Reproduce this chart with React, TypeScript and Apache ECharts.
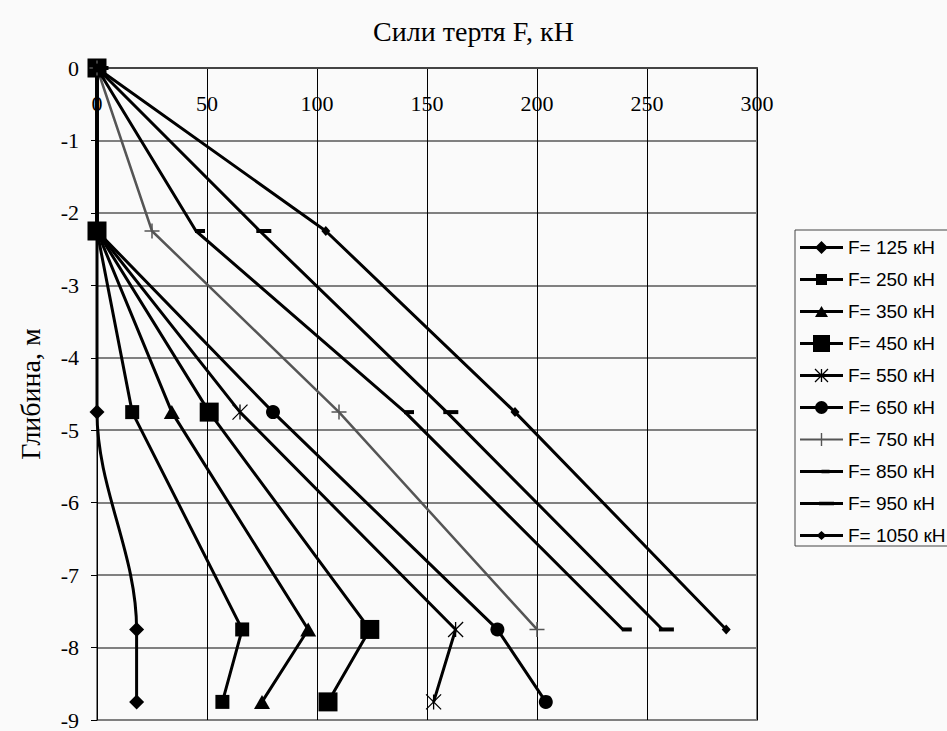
import React, { useEffect, useRef } from "react";
import * as echarts from "echarts";

const depths = [0, -2.25, -4.75, -7.75, -8.75];
const depthsShort = [0, -2.25, -4.75, -7.75];
const f125 = [0, 0, 0, 18, 18];
const f250 = [0, 0, 16, 66, 57];
const f350 = [0, 0, 34, 96, 75];
const f450 = [0, 0, 51, 124, 105];
const f550 = [0, 0, 65, 163, 153];
const f650 = [0, 0, 80, 182, 204];
const f750 = [0, 25, 110, 200];
const f850 = [0, 45, 140, 239];
const f950 = [0, 74, 159, 257];
const f1050 = [0, 104, 190, 286];
const names = ["F= 125 кН", "F= 250 кН", "F= 350 кН", "F= 450 кН", "F= 550 кН", "F= 650 кН", "F= 750 кН", "F= 850 кН", "F= 950 кН", "F= 1050 кН"];
const xTicks = { min: 0, max: 300, interval: 50 };
const yTicks = { min: -9, max: 0, interval: 1 };

const STAR = "path://M0,0L10,10M10,0L0,10M5,0L5,10";
const PLUS = "path://M5,0L5,10M0,5L10,5";

// ---- legend icon builders (line + marker in a 43x19 box, centre line y=0) ----
const IW = 43;
const IH = 19;
const CX = IW / 2;
const f = (n: number) => n.toFixed(2);
const frame = () => `M0,${-IH / 2}L0,${-IH / 2}M0,${IH / 2}L0,${IH / 2}`;
const lineP = (t: number) => `M0,${f(-t / 2)}L${IW},${f(-t / 2)}L${IW},${f(t / 2)}L0,${f(t / 2)}Z`;
const rectP = (w: number, h: number, dx = 0) =>
  `M${f(CX - w / 2 + dx)},${f(-h / 2)}L${f(CX + w / 2 + dx)},${f(-h / 2)}L${f(CX + w / 2 + dx)},${f(h / 2)}L${f(CX - w / 2 + dx)},${f(h / 2)}Z`;
const diamondP = (w: number, h: number) =>
  `M${f(CX)},${f(-h / 2)}L${f(CX + w / 2)},0L${f(CX)},${f(h / 2)}L${f(CX - w / 2)},0Z`;
const triP = (w: number, h: number) =>
  `M${f(CX)},${f(-h / 2)}L${f(CX + w / 2)},${f(h / 2)}L${f(CX - w / 2)},${f(h / 2)}Z`;
const circleP = (r: number) =>
  `M${f(CX - r)},0A${r},${r},0,1,1,${f(CX + r)},0A${r},${r},0,1,1,${f(CX - r)},0Z`;
const starP = (s: number, t: number) => {
  const h = s / 2;
  const d = t / 2 / Math.SQRT2;
  const a = `M${f(CX - h + d)},${f(-h - d)}L${f(CX + h + d)},${f(h - d)}L${f(CX + h - d)},${f(h + d)}L${f(CX - h - d)},${f(-h + d)}Z`;
  const b = `M${f(CX + h + d)},${f(-h + d)}L${f(CX - h + d)},${f(h + d)}L${f(CX - h - d)},${f(h - d)}L${f(CX + h - d)},${f(-h - d)}Z`;
  return a + b + rectP(t, s);
};
const icon = (...parts: string[]) => "path://" + frame() + parts.join("");

const legendIcons = [
  icon(lineP(3), diamondP(13, 13)),
  icon(lineP(3), rectP(11, 11)),
  icon(lineP(3), triP(13, 11)),
  icon(lineP(3), rectP(17, 17)),
  icon(lineP(3), starP(13, 1.3)),
  icon(lineP(3), circleP(6.5)),
  icon(lineP(2), rectP(1.4, 13)),
  icon(lineP(3), rectP(8, 3.6, 4)),
  icon(lineP(3), rectP(15, 3.6, 5)),
  icon(lineP(3), diamondP(10, 9)),
];

function pairs(xs: number[], ys: number[]) {
  return xs.map((x, i) => [x, ys[i]]);
}

export default function App() {
  const ref = useRef<HTMLDivElement>(null);
  useEffect(() => {
    if (!ref.current) return;
    const chart = echarts.init(ref.current, null, { renderer: "svg" });
    const black = "#000";
    const gray = "#555";
    const mk = (name: string, data: number[][], symbol: string, size: any, extra: any = {}) => ({
      name,
      type: "line",
      data,
      symbol,
      symbolSize: size,
      lineStyle: { color: extra.lineColor || black, width: extra.lineWidth || 3 },
      itemStyle: extra.itemStyle || { color: black },
      smooth: extra.smooth || false,
      symbolOffset: extra.symbolOffset,
      showSymbol: true,
    });
    const series = [
      mk(names[0], pairs(f125, depths), "diamond", 15, { smooth: 0.35 }),
      mk(names[1], pairs(f250, depths), "rect", 14),
      mk(names[2], pairs(f350, depths), "triangle", [16, 14]),
      mk(names[3], pairs(f450, depths), "rect", 19),
      mk(names[4], pairs(f550, depths), STAR, 15, {
        itemStyle: { color: "transparent", borderColor: black, borderWidth: 1.3 },
      }),
      mk(names[5], pairs(f650, depths), "circle", 14),
      mk(names[6], pairs(f750, depthsShort), PLUS, 15, {
        lineColor: gray,
        lineWidth: 2.5,
        itemStyle: { color: "transparent", borderColor: gray, borderWidth: 1.5 },
      }),
      mk(names[7], pairs(f850, depthsShort), "rect", [10, 4], { symbolOffset: [4, 0] }),
      mk(names[8], pairs(f950, depthsShort), "rect", [15, 4], { symbolOffset: [4, 0] }),
      mk(names[9], pairs(f1050, depthsShort), "diamond", [9, 10]),
    ];
    chart.setOption({
      animation: false,
      backgroundColor: "#fafafa",
      title: {
        text: "Сили тертя F, кН",
        left: "center",
        top: 12,
        textStyle: { fontFamily: "Liberation Serif", fontSize: 28, fontWeight: "normal", color: "#000" },
      },
      legend: {
        orient: "vertical",
        left: 795,
        top: 230,
        itemWidth: IW,
        itemHeight: IH,
        itemGap: 13,
        symbolKeepAspect: true,
        padding: [8, 4, 1, 5],
        borderColor: "#444",
        borderWidth: 1,
        textStyle: { fontFamily: "Liberation Sans", fontSize: 19, color: "#000" },
        data: names.map((n, i) => ({
          name: n,
          icon: legendIcons[i],
          itemStyle: { color: i === 6 ? gray : black, borderWidth: 0 },
        })),
      },
      grid: { left: 97, top: 68, right: 190, bottom: 9, show: true, borderColor: "#808080", borderWidth: 2, backgroundColor: "transparent" },
      xAxis: {
        type: "value",
        position: "top",
        ...xTicks,
        axisLine: { show: true, onZero: false, lineStyle: { color: "#444", width: 2 } },
        axisTick: { show: false },
        axisLabel: { inside: true, margin: 24, fontFamily: "Liberation Serif", fontSize: 22, color: "#000" },
        splitLine: { show: true, lineStyle: { color: "#000", width: 1 } },
      },
      yAxis: {
        type: "value",
        ...yTicks,
        name: "Глибина, м",
        nameLocation: "middle",
        nameRotate: 90,
        nameGap: 53,
        nameTextStyle: { fontFamily: "Liberation Serif", fontSize: 28, color: "#000" },
        axisLine: { show: true, onZero: false, lineStyle: { color: "#000", width: 1 } },
        axisTick: { show: true, length: 6, lineStyle: { color: "#000" } },
        axisLabel: { margin: 18, fontFamily: "Liberation Serif", fontSize: 22, color: "#000" },
        splitLine: { show: true, lineStyle: { color: "#808080", width: 2 } },
      },
      series,
    });
    return () => chart.dispose();
  }, []);
  return (
    <div
      ref={ref}
      style={{ position: "fixed", left: 0, top: 0, width: 947, height: 731 }}
    />
  );
}
